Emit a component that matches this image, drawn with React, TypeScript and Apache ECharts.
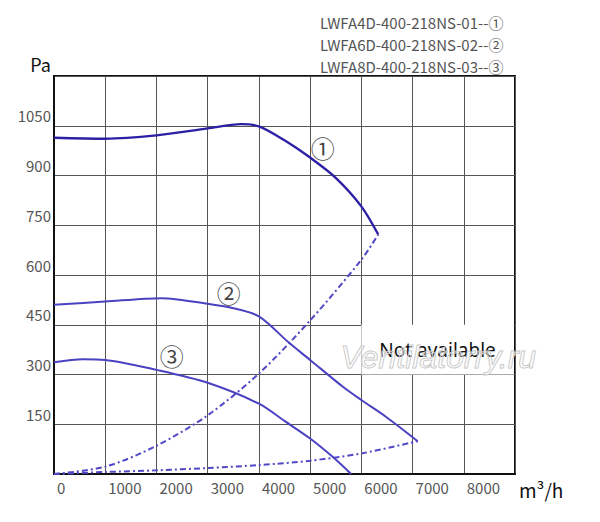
import React, { useEffect, useRef } from "react";
import * as echarts from "echarts";

// Legend names and curve markers
const modelNames = ["LWFA4D-400-218NS-01", "LWFA6D-400-218NS-02", "LWFA8D-400-218NS-03"];
const markers = ["①", "②", "③"];

// Fan curves [airflow m³/h, pressure Pa]
const fan1: number[][] = [
  [0, 1014], [1000, 1011], [2000, 1021], [3000, 1042], [3650, 1055], [4000, 1048],
  [4500, 1006], [5000, 954], [5500, 893], [6000, 807], [6330, 722],
];
const fan2: number[][] = [
  [0, 510], [1000, 520], [2100, 530], [3000, 513], [3500, 500], [4000, 475], [4600, 394],
  [5000, 344], [5640, 263], [6000, 223], [6485, 172], [7100, 99],
];
const fan3: number[][] = [
  [0, 337], [570, 346], [1000, 344], [2000, 314], [3000, 275], [4000, 212], [4500, 160],
  [5000, 107], [5445, 51], [5800, 0],
];
// System (duct) curves
const system1: number[][] = [
  [0, 0], [1000, 22], [2000, 85], [3000, 177], [4000, 303], [5000, 463], [6000, 646],
  [6330, 722],
];
const system2: number[][] = [
  [0, 0], [1000, 6], [2000, 11], [3000, 18], [4000, 27], [5000, 40], [6000, 62], [7100, 99],
];
// Marker label positions [x, y, index]
const markerPositions: number[][] = [
  [5245, 985, 0],
  [3410, 546, 1],
  [2300, 356, 2],
];
// Unavailable zone
const naZone = { x0: 6000, x1: 8975, y0: 300, y1: 450, text: "Not available" };

const xMin = 0, xMax = 9000, xStep = 1000;
const yMin = 0, yMax = 1200, yStep = 150;

const dark = "#2c20a4";
const blue = "#4b42c2";
const dashBlue = "#5148c6";
const cjk = "'Noto Sans CJK SC', 'Noto Sans', sans-serif";

export default function App() {
  const ref = useRef<HTMLDivElement>(null);
  useEffect(() => {
    if (!ref.current) return;
    const chart = echarts.init(ref.current, undefined, { renderer: "svg" });
    const solid = (data: number[][], color: string, w: number) => ({
      type: "line",
      data,
      smooth: 0.3,
      showSymbol: false,
      symbol: "none",
      lineStyle: { color, width: w },
      z: 3,
    });
    const dashed = (data: number[][]) => ({
      type: "line",
      data,
      smooth: 0.3,
      showSymbol: false,
      symbol: "none",
      lineStyle: { color: dashBlue, width: 2, type: [6, 3, 2, 3] },
      z: 3,
    });
    chart.setOption({
      animation: false,
      backgroundColor: "#ffffff",
      title: {
        text: modelNames.map((n, i) => `${n}--${markers[i]}`).join("\n"),
        left: 320,
        top: 11,
        padding: 0,
        textStyle: {
          fontFamily: cjk,
          fontSize: 15,
          fontWeight: "normal",
          color: "#555",
          lineHeight: 22.3,
        },
      },
      grid: {
        left: 54,
        right: 85,
        top: 76,
        bottom: 48,
        show: true,
        borderColor: "#111",
        borderWidth: 2,
        backgroundColor: "transparent",
      },
      xAxis: {
        type: "value",
        min: xMin,
        max: xMax,
        interval: xStep,
        name: "m³/h",
        nameLocation: "end",
        nameGap: 4,
        nameTextStyle: {
          fontFamily: cjk,
          fontSize: 19,
          color: "#111",
          align: "left",
          verticalAlign: "top",
          padding: [6, 0, 0, 0],
        },
        axisLine: { show: true, lineStyle: { color: "#111", width: 2 } },
        axisTick: { show: false },
        splitLine: { show: true, lineStyle: { color: "#555", width: 1 } },
        axisLabel: {
          fontFamily: cjk,
          fontSize: 15,
          color: "#555",
          align: "left",
          padding: [0, 0, 0, 3],
          margin: 6,
          formatter: (v: number) => (v >= xMax ? "" : String(v)),
        },
      },
      yAxis: {
        type: "value",
        min: yMin,
        max: yMax,
        interval: yStep,
        name: "Pa",
        nameLocation: "end",
        nameGap: 12,
        nameTextStyle: {
          fontFamily: cjk,
          fontSize: 18,
          color: "#111",
          align: "right",
          verticalAlign: "middle",
          padding: [0, 3, 0, 0],
        },
        axisLine: { show: true, lineStyle: { color: "#111", width: 2 } },
        axisTick: { show: false },
        splitLine: { show: true, lineStyle: { color: "#555", width: 1 } },
        axisLabel: {
          fontFamily: cjk,
          fontSize: 15,
          color: "#555",
          margin: 3,
          verticalAlign: "bottom",
          lineHeight: 20,
          formatter: (v: number) => (v <= yMin || v >= yMax ? "" : String(v)),
        },
      },
      series: [
        solid(fan1, dark, 2.4),
        solid(fan2, blue, 2),
        solid(fan3, blue, 2),
        dashed(system1),
        dashed(system2),
        {
          type: "scatter",
          data: markerPositions,
          symbolSize: 0,
          z: 4,
          label: {
            show: true,
            position: "inside",
            fontFamily: cjk,
            fontSize: 24,
            color: "#111",
            formatter: (p: any) => markers[p.value[2]],
          },
          markArea: {
            silent: true,
            itemStyle: { color: "#ffffff" },
            label: {
              show: true,
              position: "inside",
              fontFamily: "'Noto Sans', sans-serif",
              fontSize: 19,
              color: "#111",
            },
            data: [[
              { name: naZone.text, coord: [naZone.x0, naZone.y1] },
              { coord: [naZone.x1, naZone.y0] },
            ]],
          },
        },
      ],
      graphic: [
        {
          type: "text",
          left: 340,
          top: 340,
          z: 100,
          silent: true,
          style: {
            text: "Ventilatorry.ru",
            fontFamily: "'Liberation Sans', sans-serif",
            fontStyle: "italic",
            fontSize: 32,
            fill: "rgba(255,255,255,0.25)",
            stroke: "#c4c4c4",
            lineWidth: 1,
          },
        },
      ],
    });
    return () => chart.dispose();
  }, []);
  return (
    <div
      ref={ref}
      style={{ position: "absolute", left: 0, top: 0, width: 600, height: 522, background: "#fff" }}
    />
  );
}
